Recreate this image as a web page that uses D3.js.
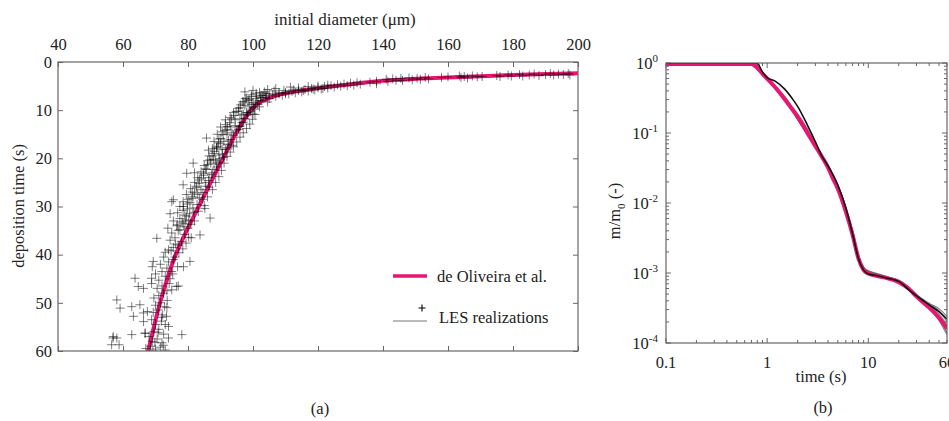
<!DOCTYPE html>
<html>
<head>
<meta charset="utf-8">
<script src="https://cdn.jsdelivr.net/npm/d3@7"></script>
<style>
  body { margin: 0; background: #fff; }
  svg text { font-family: "Liberation Serif", "DejaVu Serif", serif; fill: #222; }
</style>
</head>
<body>
<div id="chart"></div>
<script>
"use strict";

// ---- panel (a) data ----
var diameterTicks = [40, 60, 80, 100, 120, 140, 160, 180, 200];
var depositionTicks = [0, 10, 20, 30, 40, 50, 60];

// de Oliveira et al. curve
var oliveiraDiameter = [67.4, 69.5, 71.4, 73.6, 76.2, 79.6, 83.3, 87, 90.8, 94.6, 97.3, 99.4, 101.8, 104.5, 108, 113, 118, 124, 130, 140, 150, 160, 170, 180, 190, 200];
var oliveiraTime = [61, 55, 50, 45, 40, 35, 30, 25, 20, 15, 12, 10, 8.5, 7.6, 6.8, 6.1, 5.6, 5.1, 4.6, 3.9, 3.5, 3.2, 2.95, 2.7, 2.5, 2.35];

// LES realizations, [initial diameter, deposition time]
var lesOutliers = [
  [56.9,57.3],[58.8,58.7],[58.1,49.4],[59.1,51.1],[57.0,57.0],[58.1,57.3],[56.5,58.7],[62.7,50.8],[63.2,52.8],
  [65.2,50.4],[62.7,56.6],[66.3,52.1],[66.3,53.9],[66.8,56.3],[63.7,44.9],[64.7,46.6],[68.8,44.9],[69.3,41.4],
  [66.3,47],[70.4,36.6],[75,29],[75.5,28.6],[78.6,30],[79.6,23.1],[81.6,21],[83.7,35.9],[80.6,41.4],[78.6,42.5],
  [85.7,15.8],[86.3,18.3],[88.8,17.9],[86.8,32.4],[85.2,30.4],[78.1,56.6],[75,47.3],[76.5,46.6],[73.4,52.8],[74,54.9]
];
var lesLow = [
  [67,59.5],[68.5,59],[70,59.6],[71.5,59.2],[69,58],[70.5,57.5],[72,58.3],[73,59.8],[68,57],[66.8,56.3],
  [69.5,56],[71,55.5],[72.5,56.5],[74,57.3],[70,54.5],[71.8,53.8],[68.8,53.5],[73,54.5],[69.3,52],[70.8,51.5],
  [72.2,52.5],[67.5,51.8],[70,50.5],[71.5,50],[73.5,51],
  [69.5,49],[71,48.5],[72.5,48],[70.5,47],[72,46.5],[73.5,47.5],[68.8,46],[71,45.3],[73,44.5],[72,43.5],
  [74.5,45],[70,44],[73.5,42.8],[75,43.5],[71.5,42],[74,41.5],[72.5,40.5],[75.5,41],[76.8,42.5],[73,39.5],
  [77,46.5],[69,42.5]
];
var lesMid = [
  [74,39],[75.5,38.5],[77,38],[74.5,37],[76,36.5],[78,37.3],[75,35.5],[77,35],[79,35.8],[73.8,34.5],
  [76.5,34],[78.5,33.5],[80,34.5],[75.5,33],[77.5,32.5],[79.5,32],[76.8,31.3],[78.5,30.8],[80.5,31.5],[77.5,30],
  [79.8,29.5],[81.5,30.3],[74.5,31.5],[82,33],[81,36.5],
  [78.5,29],[80,28.5],[81.5,28],[79.5,27.5],[81.3,27],[83,27.5],[80.8,26.3],[82.5,25.8],[84,26.5],[82,25],
  [83.5,24.5],[85.3,25],[83,24],[84.8,23.5],[86.5,24],[84,22.8],[85.7,22.3],[87.5,23],[85,21.5],[87,21],
  [88.8,21.8],[86,20.5],[87.8,20.2],[89.5,20.8],[82,23],[86.5,26],[84.5,28.5],[78.5,25.5]
];
var lesHigh = [
  [86.5,19.5],[88,19],[89.5,19.3],[91,19.8],[87.5,18],[89,17.5],[90.5,18.2],[92,17.8],[88,16.5],[89.5,16],
  [91,16.5],[92.5,16.2],[89,15],[90.5,14.5],[92,15],[93.5,14.7],[90,13.5],[91.5,13],[93,13.5],[94.5,13.2],
  [91.5,12],[93,11.5],[94.5,12],[96,11.8],[94,10.5],[95.5,10.2],[97,10.8],[98.5,10.5],[97,12.5],[95.5,14],
  [90,17],[93.5,17.3],[88.5,20.5],[96,13.3],[92,14],
  [96,9.5],[97.5,9],[99,9.3],[100.5,9.8],[97,8.5],[98.5,8],[100,8.4],[101.5,8.8],[98,7.5],[99.5,7.2],
  [101,7.6],[102.5,8],[99.5,6.8],[101,6.5],[102.5,6.9],[104,7.3],[103.5,6.2],[105,6.6],[106.5,6],[108,6.4],
  [104.5,5.7],[107,5.5],[109.5,5.9],[110,6.6],[111.5,5.2],[112.5,5.8],[114,5.4],[115.5,5.9],[117,5.1],[118.5,5.6],
  [120,5.0],[121.5,5.5],[123,4.8],[98,10.5],[100,10.8],[96.5,11],[102,9.3],[104.5,8.3],[97.5,6.2],[100,5.9]
];
var lesDense = [
  [77.5,34.8],[78.2,33.2],[79,31.8],[79.8,30.5],[80.6,29.2],[81.2,28.3],[82,27.2],[82.7,26.1],[83.4,25.2],[84.1,24.1],
  [84.8,23.1],[85.4,22.2],[86.1,21.3],[86.8,20.3],[87.4,19.5],[88.1,18.6],[88.8,17.7],[89.4,16.8],[90.1,15.9],[90.8,15.1],
  [91.4,14.2],[92.1,13.4],[92.8,12.6],[93.4,11.8],[94.1,11.1],[94.8,10.3],[95.5,9.6],[96.2,8.9],[96.9,8.2],[97.6,7.6],
  [76.8,33.8],[78.8,34.2],[80.2,32.8],[81.8,31.2],[82.8,29.6],[83.6,28.2],[84.6,27.1],[85.5,25.8],[86.3,24.6],[87.2,23.4],
  [88,22.3],[88.9,21.2],[89.8,20.1],[90.6,19.1],[91.5,18.1],[92.3,17.1],[93.2,16.1],[94,15.2],[94.9,14.3],[95.8,13.4],
  [96.6,12.6],[97.5,11.7],[98.3,11],[99.2,10.2],[100.1,9.5],[100.8,8.7],[101.5,8.1],[102.3,7.4],[103.1,6.9],[104,6.5],
  [79.3,33],[80.9,33.7],[83.2,31],[85,29.8],[86,28],[87.5,26.5],[88.5,25],[89.5,23.8],[90.3,22.5],[91.1,21],
  [92,19.6],[93,18.7],[94,17.6],[95,16.6],[96,15.6],[97,14.7],[98,13.8],[99,12.9],[99.8,11.9],[100.6,10.9],
  [76,40.5],[77.2,39.6],[78.4,38.8],[79.4,37.6],[80.2,36.4],[75.3,44],[74.2,46],[73.6,49.5],[72.8,50.8],[71.9,53],
  [70.8,56.2],[69.8,58.2],[72.4,58.8],[69.2,60],[74.8,39.2],[76.2,37.8],[99.5,8.8],[98.8,7.8],[101,7.1],[102,6.3]
];
var lesTail = [
  [103,7.4],[104,7.0],[105,7.6],[106,6.8],[107,7.1],[108,6.6],[109,6.9],[110,6.3],[111,6.6],[112,6.1],
  [113,6.4],[114,5.9],[115,6.2],[116,5.7],[117,6.0],[118,5.5],[119,5.8],[120,5.3],[121,5.6],[122,5.1],
  [123,5.4],[124,4.9],[125,5.2],[126,4.7],[127,5.0],[128,4.6],[129,4.9],[130,4.4],[131,4.8],[132,4.3],
  [133,4.6],[136,4.2],[138,4.0],[138,4.5],
  [141,3.6],[141.5,4.0],[143,3.5],[144,3.8],[145.5,3.4],[146,3.8],[148,3.3],[149,3.7],[150.5,3.4],[151.5,3.6],
  [153,3.2],[154,3.5],[158,3.2],[160,3.1],[163.5,2.9],[164,3.2],[165,3.0],[166,3.3],[167.5,2.9],[169,3.1],
  [170.5,3.0],[175,2.8],[176,3.0],[178.5,2.7],[179.5,2.9],[182,2.6],[183,2.9],[185,2.7],[186.5,2.5],[188,2.8],
  [190,2.6],[191.5,2.4],[192.5,2.7],[194,2.5],[195.5,2.6],[197,2.4],[197.5,2.7]
];

// ---- panel (b) data ----
var massTime = [0.1, 0.7, 0.8, 0.9, 1, 1.2, 1.5, 1.8, 2, 2.5, 3, 3.5, 4, 4.5, 5, 6, 7, 8, 9, 10, 12, 15, 20, 25, 30, 40, 50, 60];
var oliveiraMass = [0.97,0.97,0.85,0.7,0.6,0.45,0.3,0.21,0.17,0.1,0.065,0.045,0.032,0.022,0.016,0.0075,0.0035,0.0016,0.0011,0.00098,0.00091,0.00085,0.00074,0.0006,0.00046,0.00032,0.00023,0.00016];
var lesMassDark = [1,1,0.99,0.74,0.62,0.55,0.42,0.3,0.24,0.13,0.075,0.046,0.034,0.025,0.018,0.0085,0.0036,0.0016,0.0011,0.00097,0.00092,0.00085,0.00076,0.00058,0.00047,0.00035,0.00028,0.00022];
var lesMassRun1 = [0.99,0.99,0.88,0.72,0.6,0.46,0.31,0.21,0.16,0.1,0.068,0.043,0.033,0.023,0.017,0.008,0.0038,0.0017,0.00115,0.00104,0.00096,0.00087,0.00077,0.00062,0.00048,0.00034,0.00026,0.00018];
var lesMassRun2 = [0.99,0.98,0.9,0.74,0.61,0.45,0.29,0.2,0.155,0.095,0.062,0.044,0.031,0.022,0.016,0.0078,0.0037,0.0017,0.0012,0.00106,0.00099,0.0009,0.00078,0.0006,0.00047,0.00033,0.00024,0.00014];
var lesMassRun3 = [1,0.99,0.87,0.71,0.59,0.44,0.32,0.22,0.18,0.11,0.066,0.047,0.033,0.024,0.017,0.0082,0.0038,0.0016,0.0011,0.00099,0.00093,0.00087,0.00079,0.00063,0.00049,0.00036,0.00029,0.0002];
var lesMassRun4 = [0.99,0.99,0.91,0.73,0.62,0.47,0.33,0.23,0.19,0.115,0.07,0.048,0.035,0.025,0.018,0.0088,0.004,0.0018,0.0012,0.001,0.00094,0.00086,0.00075,0.0006,0.00045,0.00031,0.00021,0.00013];
var lesMassRun5 = [1,1,0.93,0.73,0.6,0.44,0.3,0.215,0.17,0.105,0.07,0.046,0.034,0.024,0.018,0.0084,0.0039,0.0017,0.00118,0.00108,0.00098,0.00089,0.00077,0.00061,0.00049,0.00037,0.00031,0.00024];
var timeTickValues = [0.1, 1, 10, 60];
var timeTickLabels = ["0.1", "1", "10", "60"];
var massExponents = [0, -1, -2, -3, -4];

var PINK = "#ea1572";
var AXIS = "#666";
var FS = 16.5;

var svg = d3.select("#chart").append("svg")
    .attr("width", 949)
    .attr("height", 421);
svg.append("rect").attr("width", 949).attr("height", 421).attr("fill", "#fff");

var defs = svg.append("defs");

// ================= panel (a) =================
var a = { left: 58, right: 578, top: 62, bottom: 351 };
var xA = d3.scaleLinear().domain([40, 200]).range([a.left, a.right]);
var yA = d3.scaleLinear().domain([0, 60]).range([a.top, a.bottom]);

defs.append("clipPath").attr("id", "clipA").append("rect")
    .attr("x", a.left).attr("y", a.top)
    .attr("width", a.right - a.left).attr("height", a.bottom - a.top);

function styleAxis(g) {
  g.attr("font-family", "Liberation Serif, serif").attr("font-size", FS);
  g.select(".domain").remove();
  g.selectAll(".tick line").attr("stroke", AXIS);
  g.selectAll(".tick text").attr("fill", "#222");
}

svg.append("g").attr("transform", "translate(0," + a.top + ")")
    .call(d3.axisTop(xA).tickValues(diameterTicks).tickSize(-5).tickPadding(12).tickFormat(d3.format("d")))
    .call(styleAxis);
svg.append("g").attr("transform", "translate(0," + a.bottom + ")")
    .call(d3.axisBottom(xA).tickValues(diameterTicks).tickSize(-5).tickFormat(""))
    .call(styleAxis);
svg.append("g").attr("transform", "translate(" + a.left + ",0)")
    .call(d3.axisLeft(yA).tickValues(depositionTicks).tickSize(-5).tickPadding(6).tickFormat(d3.format("d")))
    .call(styleAxis);
svg.append("g").attr("transform", "translate(" + a.right + ",0)")
    .call(d3.axisRight(yA).tickValues(depositionTicks).tickSize(-5).tickFormat(""))
    .call(styleAxis);

var plotA = svg.append("g").attr("clip-path", "url(#clipA)");

var oliveiraLine = d3.line()
    .x(function(d, i) { return xA(oliveiraDiameter[i]); })
    .y(function(d, i) { return yA(oliveiraTime[i]); })
    .curve(d3.curveCatmullRom.alpha(0.5));
plotA.append("path")
    .datum(oliveiraDiameter)
    .attr("d", oliveiraLine)
    .attr("fill", "none")
    .attr("stroke", PINK)
    .attr("stroke-width", 4);

var lesPoints = lesOutliers.concat(lesLow, lesMid, lesHigh, lesDense, lesTail);
var plus = "M-4.5,0H4.5M0,-4.5V4.5";
plotA.selectAll("path.les")
    .data(lesPoints)
    .enter().append("path")
    .attr("class", "les")
    .attr("d", plus)
    .attr("transform", function(d) { return "translate(" + xA(d[0]) + "," + yA(d[1]) + ")"; })
    .attr("fill", "none")
    .attr("stroke", "#000")
    .attr("stroke-opacity", 0.5)
    .attr("stroke-width", 1);

svg.append("rect")
    .attr("x", a.left).attr("y", a.top)
    .attr("width", a.right - a.left).attr("height", a.bottom - a.top)
    .attr("fill", "none").attr("stroke", AXIS).attr("stroke-width", 1.2);

// legend
svg.append("line").attr("x1", 393).attr("x2", 427).attr("y1", 276).attr("y2", 276)
    .attr("stroke", PINK).attr("stroke-width", 3.5);
svg.append("text").attr("x", 437).attr("y", 282).attr("font-size", FS).text("de Oliveira et al.");
svg.append("line").attr("x1", 393).attr("x2", 427).attr("y1", 321).attr("y2", 321)
    .attr("stroke", "#777").attr("stroke-width", 1);
svg.append("path").attr("d", "M-3.5,0H3.5M0,-3.5V3.5").attr("transform", "translate(422,308)")
    .attr("stroke", "#000").attr("stroke-width", 1.1).attr("fill", "none");
svg.append("text").attr("x", 439).attr("y", 323).attr("font-size", FS).text("LES realizations");

// axis titles
svg.append("text").attr("x", 345).attr("y", 25).attr("text-anchor", "middle")
    .attr("font-size", 17).text("initial diameter (\u03bcm)");
svg.append("text").attr("transform", "translate(24,206) rotate(-90)").attr("text-anchor", "middle")
    .attr("font-size", FS).text("deposition time (s)");
svg.append("text").attr("x", 320).attr("y", 414).attr("text-anchor", "middle")
    .attr("font-size", FS).text("(a)");

// ================= panel (b) =================
var b = { left: 666, right: 947, top: 63, bottom: 343 };
var xB = d3.scaleLog().domain([0.1, 60]).range([b.left, b.right]);
var yB = d3.scaleLog().domain([1e-4, 1]).range([b.bottom, b.top]);

defs.append("clipPath").attr("id", "clipB").append("rect")
    .attr("x", b.left).attr("y", b.top)
    .attr("width", b.right - b.left).attr("height", b.bottom - b.top);

function isDecade(v) {
  var l = Math.log10(v);
  return Math.abs(l - Math.round(l)) < 1e-6;
}

var ticksB = svg.append("g").attr("stroke", AXIS).attr("stroke-width", 1);
xB.ticks().forEach(function(v) {
  var len = isDecade(v) ? 5 : 3;
  var px = xB(v);
  ticksB.append("line").attr("x1", px).attr("x2", px).attr("y1", b.bottom).attr("y2", b.bottom - len);
  ticksB.append("line").attr("x1", px).attr("x2", px).attr("y1", b.top).attr("y2", b.top + len);
});
yB.ticks().forEach(function(v) {
  var len = isDecade(v) ? 5 : 3;
  var py = yB(v);
  ticksB.append("line").attr("x1", b.left).attr("x2", b.left + len).attr("y1", py).attr("y2", py);
  ticksB.append("line").attr("x1", b.right).attr("x2", b.right - len).attr("y1", py).attr("y2", py);
});

svg.append("g").selectAll("text")
    .data(timeTickValues)
    .enter().append("text")
    .attr("x", function(d) { return xB(d); })
    .attr("y", 368)
    .attr("text-anchor", "middle")
    .attr("font-size", FS)
    .text(function(d, i) { return timeTickLabels[i]; });

var massLabels = svg.append("g").selectAll("text")
    .data(massExponents)
    .enter().append("text")
    .attr("x", 658)
    .attr("y", function(d) { return yB(Math.pow(10, d)) + 6; })
    .attr("text-anchor", "end")
    .attr("font-size", FS);
massLabels.append("tspan").text("10");
massLabels.append("tspan").attr("dy", -7).attr("font-size", 11).text(function(d) { return String(d); });

var plotB = svg.append("g").attr("clip-path", "url(#clipB)");
var massLine = d3.line()
    .x(function(d, i) { return xB(massTime[i]); })
    .y(function(d) { return yB(d); })
    .curve(d3.curveMonotoneX);

var grayRuns = [lesMassRun1, lesMassRun2, lesMassRun3, lesMassRun4, lesMassRun5];
plotB.selectAll("path.run")
    .data(grayRuns)
    .enter().append("path")
    .attr("class", "run")
    .attr("d", massLine)
    .attr("fill", "none")
    .attr("stroke", "#555")
    .attr("stroke-opacity", 0.7)
    .attr("stroke-width", 1.2);
plotB.append("path").datum(oliveiraMass)
    .attr("d", massLine)
    .attr("fill", "none")
    .attr("stroke", PINK)
    .attr("stroke-width", 4);
plotB.append("path").datum(lesMassDark)
    .attr("d", massLine)
    .attr("fill", "none")
    .attr("stroke", "#111")
    .attr("stroke-width", 1.6);

svg.append("rect")
    .attr("x", b.left).attr("y", b.top)
    .attr("width", b.right - b.left).attr("height", b.bottom - b.top)
    .attr("fill", "none").attr("stroke", AXIS).attr("stroke-width", 1.2);

var yTitle = svg.append("text").attr("transform", "translate(620,211) rotate(-90)")
    .attr("text-anchor", "middle").attr("font-size", FS);
yTitle.append("tspan").text("m/m");
yTitle.append("tspan").attr("dy", 5).attr("font-size", 11).text("0");
yTitle.append("tspan").attr("dy", -5).text(" (-)");

svg.append("text").attr("x", 821).attr("y", 382).attr("text-anchor", "middle")
    .attr("font-size", FS).text("time (s)");
svg.append("text").attr("x", 823).attr("y", 413).attr("text-anchor", "middle")
    .attr("font-size", FS).text("(b)");
</script>
</body>
</html>
